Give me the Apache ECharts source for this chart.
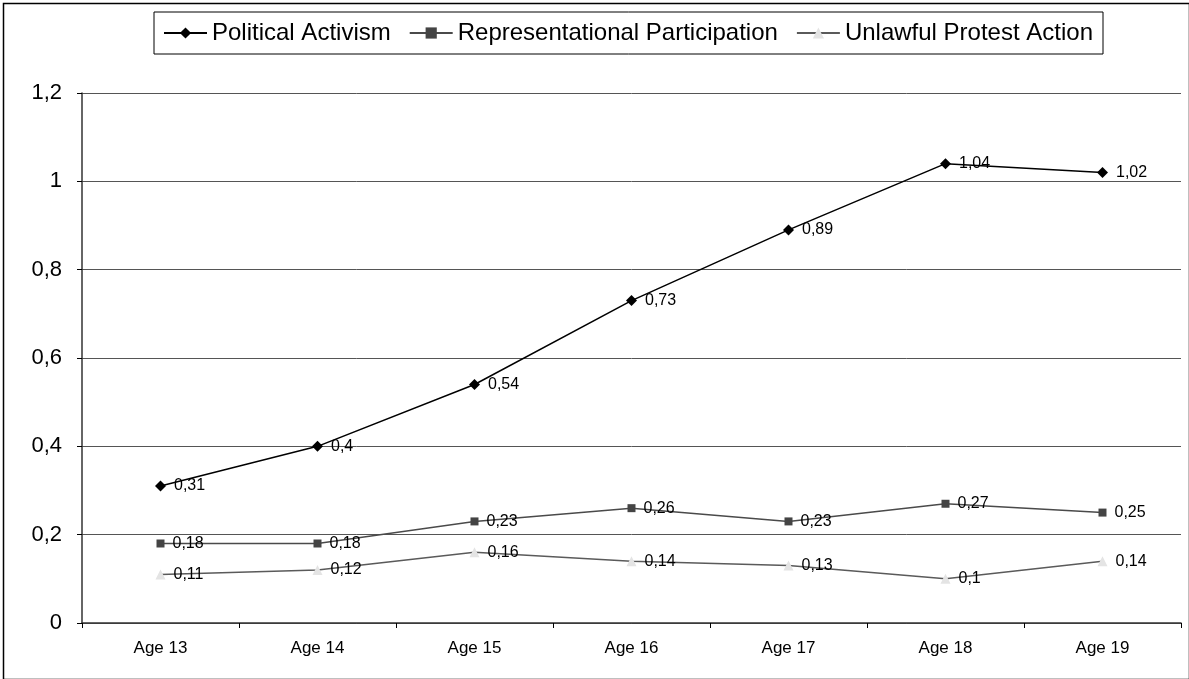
<!DOCTYPE html>
<html><head><meta charset="utf-8">
<script src="https://cdn.jsdelivr.net/npm/echarts@6/dist/echarts.min.js"></script>
<style>html,body{margin:0;padding:0;background:#fff}#c{width:1189px;height:679px}</style>
</head><body><div id="c"></div>
<script>
const categories = ['Age 13','Age 14','Age 15','Age 16','Age 17','Age 18','Age 19'];
const politicalActivism = [0.31,0.4,0.54,0.73,0.89,1.04,1.02];
const representationalParticipation = [0.18,0.18,0.23,0.26,0.23,0.27,0.25];
const unlawfulProtestAction = [0.11,0.12,0.16,0.14,0.13,0.1,0.14];
const seriesNames = ['Political Activism','Representational Participation','Unlawful Protest Action'];

const fmt = v => String(v).replace('.', ',');
const font = 'Liberation Sans, Arial, sans-serif';
const chart = echarts.init(document.getElementById('c'));
const lbl = {show:true, position:'right', distance:8, color:'#000', fontSize:16, fontFamily:font,
  formatter: p => fmt(p.value)};
chart.setOption({
  animation:false,
  backgroundColor:'#fff',
  textStyle:{fontFamily:font},
  graphic:[{type:'rect', left:1, top:1, shape:{width:1186, height:676}, style:{fill:null, stroke:'#000', lineWidth:1.5}, silent:true}],
  legend:{
    top:12, left:154, padding:[9,10,9,9], borderColor:'#000', borderWidth:1,
    itemWidth:43, itemHeight:14, itemGap:18,
    textStyle:{fontSize:24, color:'#000', fontFamily:font},
    data:seriesNames
  },
  grid:{left:82, right:8, top:93, bottom:56},
  xAxis:{
    type:'category', data:categories, boundaryGap:true,
    axisLine:{lineStyle:{color:'#333', width:1.5}},
    axisTick:{show:true, length:5, lineStyle:{color:'#000'}},
    axisLabel:{color:'#000', fontSize:17, margin:17, fontFamily:font},
    splitLine:{show:false}
  },
  yAxis:{
    type:'value', min:0, max:1.2, interval:0.2,
    axisLine:{show:true, lineStyle:{color:'#333', width:1.5}},
    axisTick:{show:true, length:5, lineStyle:{color:'#000'}},
    axisLabel:{color:'#000', fontSize:22, margin:20, fontFamily:font, formatter: v => fmt(+v.toFixed(1))},
    splitLine:{show:true, lineStyle:{color:'#555', width:1}}
  },
  series:[
    {name:seriesNames[0], type:'line', data:politicalActivism, symbol:'diamond', symbolSize:11,
     lineStyle:{color:'#000', width:1.5}, itemStyle:{color:'#000'}, label:lbl},
    {name:seriesNames[1], type:'line', data:representationalParticipation, symbol:'rect', symbolSize:8,
     lineStyle:{color:'#4a4a4a', width:1.5}, itemStyle:{color:'#444'}, label:lbl},
    {name:seriesNames[2], type:'line', data:unlawfulProtestAction, symbol:'triangle', symbolSize:10,
     lineStyle:{color:'#5a5a5a', width:1.5}, itemStyle:{color:'#e4e4e4'}, label:lbl}
  ]
});
</script></body></html>
